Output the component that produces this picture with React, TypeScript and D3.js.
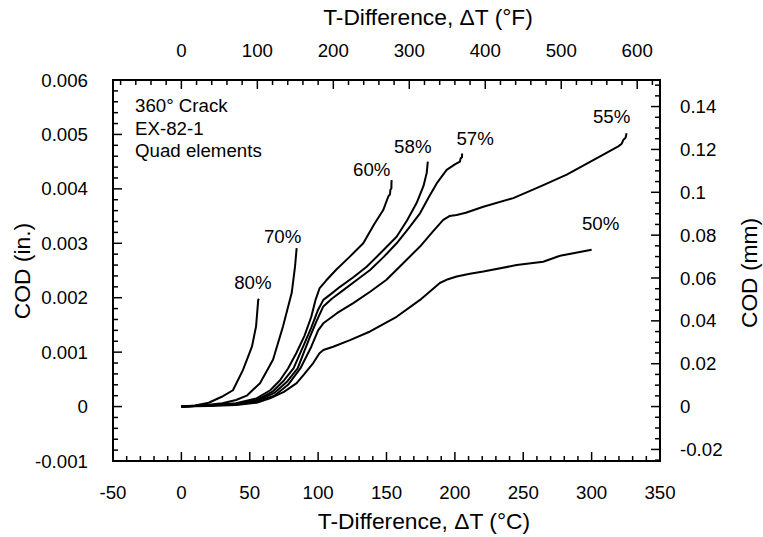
import React from "react";
import * as d3 from "d3";

// Temperature difference (°C) vs COD (in.)
const s80: [number, number][] = [[0,0],[10,0.00002],[20,0.00007],[29.5,0.00018],[37.7,0.0003],[45,0.00067],[51.6,0.0011],[54.6,0.00147],[56.2,0.00196],[56.7,0.00198]];
const s70: [number, number][] = [[0,0],[15,0.00002],[30,0.00006],[40,0.00012],[47.8,0.0002],[57.5,0.00043],[67,0.00086],[74.3,0.00147],[80.7,0.00209],[83.1,0.00257],[84.3,0.00291]];
const s60: [number, number][] = [[0,0],[20,0.00002],[40,0.00006],[55,0.00015],[65,0.0003],[72,0.00048],[78,0.0007],[84,0.00098],[90,0.0013],[95,0.00165],[98,0.00195],[101,0.00217],[106,0.00232],[113,0.00251],[123,0.00275],[133,0.003],[141,0.00335],[147.6,0.00361],[151.3,0.00386],[152.6,0.0039],[152.8,0.00398],[153.6,0.00401],[153.6,0.0041],[153.8,0.00416]];
const s58: [number, number][] = [[0,0],[20,0.00002],[40,0.00005],[55,0.00012],[67,0.00028],[75,0.00048],[82,0.0007],[89,0.0011],[95,0.00145],[100,0.00178],[103.8,0.00196],[110,0.00208],[116,0.0022],[126,0.00238],[135.5,0.00257],[146,0.00283],[157.4,0.00312],[165,0.00342],[172,0.00374],[177,0.00405],[179.4,0.00429],[180.2,0.0045]];
const s57: [number, number][] = [[0,0],[20,0.00002],[40,0.00005],[55,0.0001],[68,0.00025],[77,0.00045],[85,0.0007],[94,0.00128],[99,0.00158],[103.8,0.00184],[110,0.00198],[118.4,0.00214],[128,0.00232],[138,0.00251],[148,0.00275],[157.4,0.003],[166,0.00327],[174.5,0.00355],[181,0.00385],[186.7,0.0041],[194,0.00435],[200,0.00445],[203.7,0.0045],[204.2,0.00456],[205.2,0.00458],[205.3,0.00465]];
const s55: [number, number][] = [[0,0],[20,0.00002],[40,0.00004],[55,0.00009],[68,0.0002],[78,0.0004],[87,0.0007],[95,0.0011],[100,0.0014],[103.8,0.00153],[114,0.00172],[125.7,0.0019],[138,0.00211],[150,0.00233],[162,0.00263],[174.5,0.00294],[184,0.00322],[191.5,0.00343],[196,0.0035],[201.3,0.00352],[208,0.00356],[220.8,0.00367],[242.7,0.00383],[262.2,0.00404],[281.8,0.00426],[301.2,0.00453],[319.5,0.00478],[322,0.00483],[323.2,0.0049],[324.8,0.00494],[325.6,0.00502]];
const s50: [number, number][] = [[0,0],[20,0.00001],[40,0.00003],[55,0.00007],[64.8,0.00015],[75,0.00027],[84.3,0.00043],[90,0.0006],[96.4,0.0008],[101,0.00098],[103.8,0.00104],[111,0.0011],[123.3,0.00122],[138,0.00138],[157.4,0.00165],[174.5,0.00196],[189,0.00227],[195,0.00234],[201.3,0.00239],[211,0.00244],[220.8,0.00248],[245.2,0.0026],[264.6,0.00266],[276.9,0.00277],[300,0.00288]];

const seriesNames = ["80%", "70%", "60%", "58%", "57%", "55%", "50%"];
const seriesData = [s80, s70, s60, s58, s57, s55, s50];
// label offset from curve end, in pixels
const labelOffsets: [number, number][] = [[-6,-10],[-14,-5],[-20,-4],[-15,-9],[13,-8],[-15,-10],[9,-20]];

const bottomTicks = [-50, 0, 50, 100, 150, 200, 250, 300, 350];
const topTicksF = [0, 100, 200, 300, 400, 500, 600];
const leftTicks = [-0.001, 0, 0.001, 0.002, 0.003, 0.004, 0.005, 0.006];
const leftTickLabels = ["-0.001", "0", "0.001", "0.002", "0.003", "0.004", "0.005", "0.006"];
const rightTicksMM = [-0.02, 0, 0.02, 0.04, 0.06, 0.08, 0.1, 0.12, 0.14];
const rightTickLabels = ["-0.02", "0", "0.02", "0.04", "0.06", "0.08", "0.1", "0.12", "0.14"];
const noteLines = ["360° Crack", "EX-82-1", "Quad elements"];

const W = 763, H = 537;
const L = 113, R = 660, T = 80, B = 461;
const FONT = "'Liberation Sans', Arial, Helvetica, sans-serif";
const TICK_FS = 18.7, LABEL_FS = 18.7, TITLE_FS = 22.8;

export default function App() {
  const x = d3.scaleLinear().domain([-50, 350]).range([L, R]);
  const y = d3.scaleLinear().domain([-0.001, 0.006]).range([B, T]);
  const xF = (f: number) => x(f / 1.8);
  const yMM = (mm: number) => y(mm / 25.4);
  const line = d3.line<[number, number]>().x(d => x(d[0])).y(d => y(d[1]));

  const MAJ = 9, MIN = 5;
  const ticks: JSX.Element[] = [];
  for (let v = -50; v <= 350.001; v += 10) {
    const major = Math.abs(v % 50) < 1e-6;
    const px = x(v);
    ticks.push(<line key={"b" + v} x1={px} x2={px} y1={B} y2={B - (major ? MAJ : MIN)} />);
  }
  for (let f = -80; f <= 620.001; f += 20) {
    const major = Math.abs(f % 100) < 1e-6 && f >= 0;
    const px = xF(f);
    if (px < L + 1 || px > R - 1) continue;
    ticks.push(<line key={"t" + f} x1={px} x2={px} y1={T} y2={T + (major ? MAJ : MIN)} />);
  }
  for (let i = -5; i <= 30; i++) {
    const v = i * 0.0002;
    const major = i % 5 === 0;
    const py = y(v);
    ticks.push(<line key={"l" + i} x1={L} x2={L + (major ? MAJ : MIN)} y1={py} y2={py} />);
  }
  for (let i = -5; i <= 30; i++) {
    const mm = i * 0.005;
    const major = i % 4 === 0;
    const py = yMM(mm);
    if (py > B || py < T) continue;
    ticks.push(<line key={"r" + i} x1={R} x2={R - (major ? MAJ : MIN)} y1={py} y2={py} />);
  }

  return (
    <svg width={W} height={H} style={{ position: "absolute", left: 0, top: 0, background: "#fff" }} fontFamily={FONT}>
      <rect x={0} y={0} width={W} height={H} fill="#fff" />
      <g stroke="#000" strokeWidth={1.5}>{ticks}</g>
      <rect x={L} y={T} width={R - L} height={B - T} fill="none" stroke="#000" strokeWidth={2} />
      {seriesData.map((s, i) => (
        <path key={i} d={line(s) || ""} fill="none" stroke="#000" strokeWidth={2} strokeLinejoin="round" />
      ))}
      {seriesData.map((s, i) => {
        const e = s[s.length - 1];
        return (
          <text key={"lab" + i} x={x(e[0]) + labelOffsets[i][0]} y={y(e[1]) + labelOffsets[i][1]} fontSize={LABEL_FS} textAnchor="middle">{seriesNames[i]}</text>
        );
      })}
      {bottomTicks.map(v => (
        <text key={"bl" + v} x={x(v)} y={499} fontSize={TICK_FS} textAnchor="middle">{v}</text>
      ))}
      {topTicksF.map(f => (
        <text key={"tl" + f} x={xF(f)} y={57} fontSize={TICK_FS} textAnchor="middle">{f}</text>
      ))}
      {leftTicks.map((v, i) => (
        <text key={"ll" + i} x={88} y={y(v) + 6.5} fontSize={TICK_FS} textAnchor="end">{leftTickLabels[i]}</text>
      ))}
      {rightTicksMM.map((v, i) => (
        <text key={"rl" + i} x={680} y={yMM(v) + 6.5} fontSize={TICK_FS} textAnchor="start">{rightTickLabels[i]}</text>
      ))}
      {noteLines.map((t, i) => (
        <text key={"n" + i} x={135} y={112 + i * 22.5} fontSize={LABEL_FS}>{t}</text>
      ))}
      <text x={428} y={25} fontSize={TITLE_FS} textAnchor="middle">T-Difference, ΔT (°F)</text>
      <text x={424} y={529} fontSize={TITLE_FS} textAnchor="middle">T-Difference, ΔT (°C)</text>
      <text transform={`translate(30,${271}) rotate(-90)`} fontSize={TITLE_FS} textAnchor="middle">COD (in.)</text>
      <text transform={`translate(757,${273}) rotate(-90)`} fontSize={TITLE_FS} textAnchor="middle">COD (mm)</text>
    </svg>
  );
}
